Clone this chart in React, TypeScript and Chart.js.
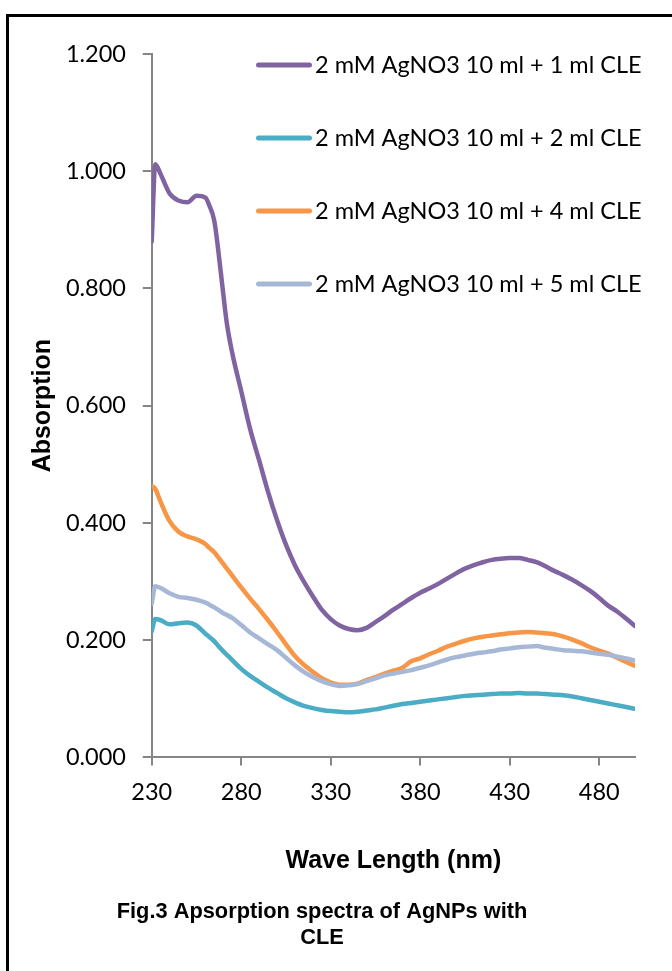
import React, { useEffect, useRef } from "react";
import { Chart, registerables } from "chart.js";

Chart.register(...registerables);

// ---------- data ----------
const wavelengths = [
  230, 232, 235, 240, 245, 250, 255, 260, 262, 265, 267, 270, 272, 275, 280,
  285, 290, 295, 300, 305, 310, 315, 320, 325, 330, 335, 340, 345, 350, 355,
  360, 365, 370, 375, 380, 385, 390, 395, 400, 405, 410, 415, 420, 425, 430,
  435, 440, 445, 450, 455, 460, 465, 470, 475, 480, 485, 490, 495, 500,
];

const abs1ml = [
  0.88, 1.012, 0.995, 0.962, 0.95, 0.947, 0.958, 0.955, 0.943, 0.915, 0.87,
  0.79, 0.74, 0.69, 0.625, 0.56, 0.507, 0.453, 0.405, 0.363, 0.328, 0.3, 0.275,
  0.252, 0.236, 0.225, 0.219, 0.217, 0.221, 0.231, 0.241, 0.252, 0.262, 0.272,
  0.281, 0.288, 0.296, 0.305, 0.314, 0.322, 0.328, 0.333, 0.337, 0.339, 0.34,
  0.34, 0.337, 0.333, 0.326, 0.318, 0.311, 0.303, 0.294, 0.284, 0.272, 0.259,
  0.249, 0.237, 0.224,
];

const abs2ml = [
  0.215, 0.236, 0.234, 0.227, 0.229, 0.23, 0.225, 0.211, 0.206, 0.198, 0.191,
  0.181, 0.175, 0.166, 0.151, 0.139, 0.129, 0.119, 0.11, 0.101, 0.094, 0.088,
  0.084, 0.081, 0.079, 0.078, 0.077, 0.078, 0.08, 0.082, 0.085, 0.088, 0.091,
  0.093, 0.095, 0.097, 0.099, 0.101, 0.103, 0.105, 0.106, 0.107, 0.108, 0.109,
  0.109, 0.11, 0.109, 0.109, 0.108, 0.107, 0.106, 0.104, 0.101, 0.098, 0.095,
  0.092, 0.089, 0.086, 0.083,
];

const abs4ml = [
  0.463, 0.458, 0.436, 0.403, 0.385, 0.377, 0.372, 0.364, 0.358, 0.35, 0.342,
  0.33, 0.322, 0.31, 0.29, 0.271, 0.253, 0.234, 0.214, 0.193, 0.173, 0.158,
  0.146, 0.135, 0.128, 0.124, 0.124, 0.126, 0.132, 0.137, 0.143, 0.148, 0.153,
  0.164, 0.169, 0.176, 0.182, 0.189, 0.194, 0.199, 0.203, 0.206, 0.208, 0.21,
  0.212, 0.213, 0.214, 0.213, 0.212, 0.21, 0.206, 0.201, 0.195, 0.188, 0.182,
  0.177, 0.17, 0.163, 0.156,
];

const abs5ml = [
  0.262, 0.292, 0.289, 0.28, 0.274, 0.272, 0.269, 0.264, 0.261, 0.256, 0.252,
  0.246, 0.243, 0.238, 0.226, 0.213, 0.203, 0.193, 0.183, 0.17, 0.157, 0.146,
  0.137, 0.13, 0.125, 0.122, 0.123, 0.125, 0.13, 0.135, 0.14, 0.143, 0.146,
  0.149, 0.153, 0.157, 0.162, 0.167, 0.171, 0.174, 0.177, 0.179, 0.181, 0.184,
  0.186, 0.188, 0.189, 0.19, 0.187, 0.185, 0.183, 0.182, 0.181, 0.179, 0.177,
  0.175, 0.172, 0.169, 0.165,
];

const seriesLabels = [
  "2 mM AgNO3 10 ml + 1 ml CLE",
  "2 mM AgNO3 10 ml + 2 ml CLE",
  "2 mM AgNO3 10 ml + 4 ml CLE",
  "2 mM AgNO3 10 ml + 5 ml CLE",
];
const seriesValues = [abs1ml, abs2ml, abs4ml, abs5ml];
const seriesColors = ["#8064A2", "#4BACC6", "#F79646", "#A6B8D6"];

const xTickValues = [230, 280, 330, 380, 430, 480];
const xMin = 230;
const xMax = 500;
const yMin = 0;
const yMax = 1.2;
const yStep = 0.2;

const yAxisTitle = "Absorption";
const xAxisTitle = "Wave Length (nm)";
const captionLines = ["Fig.3 Apsorption spectra of AgNPs with", "CLE"];

// ---------- style / layout ----------
const AXIS_GREY = "#868686";
const TICK_FONT = { family: "Lato", size: 23.5 };
const BOLD_FAMILY = "'Liberation Sans Narrow', 'Arial Narrow', 'Liberation Sans', Arial, sans-serif";
const LEGEND_X = 256;
const LEGEND_TOP = 65;
const LEGEND_GAP = 73;
const LEGEND_LINE = 56;

const insideLegend = {
  id: "insideLegend",
  afterDatasetsDraw(chart: any) {
    const ctx = chart.ctx;
    ctx.save();
    chart.data.datasets.forEach((ds: any, i: number) => {
      const y = LEGEND_TOP + i * LEGEND_GAP;
      ctx.strokeStyle = ds.borderColor;
      ctx.lineWidth = 5;
      ctx.lineCap = "round";
      ctx.beginPath();
      ctx.moveTo(LEGEND_X + 2.5, y);
      ctx.lineTo(LEGEND_X + LEGEND_LINE - 2.5, y);
      ctx.stroke();
      ctx.fillStyle = "#000";
      ctx.font = `${TICK_FONT.size}px ${TICK_FONT.family}`;
      ctx.textBaseline = "middle";
      ctx.textAlign = "left";
      ctx.fillText(ds.label, LEGEND_X + LEGEND_LINE + 3, y);
    });
    ctx.restore();
  },
};

export default function App() {
  const ref = useRef<HTMLCanvasElement>(null);

  useEffect(() => {
    if (!ref.current) return;
    const datasets = seriesValues.map((vals, i) => ({
      label: seriesLabels[i],
      data: wavelengths.map((w, j) => ({ x: w, y: vals[j] })),
      borderColor: seriesColors[i],
      backgroundColor: seriesColors[i],
      borderWidth: 4.5,
      pointRadius: 0,
      fill: false,
      cubicInterpolationMode: "monotone" as const,
      borderCapStyle: "round" as const,
      borderJoinStyle: "round" as const,
      order: seriesValues.length - i,
    }));

    const chart = new Chart(ref.current, {
      type: "line",
      data: { datasets },
      plugins: [insideLegend],
      options: {
        responsive: false,
        animation: false,
        devicePixelRatio: 1,
        layout: { padding: { left: 9, right: 37, top: 54, bottom: 20 } },
        plugins: {
          legend: { display: false },
          tooltip: { enabled: false },
          title: {
            display: true,
            position: "bottom",
            text: captionLines,
            color: "#000",
            font: {
              family: BOLD_FAMILY,
              weight: "bold",
              size: 21.8,
              lineHeight: 1.19,
            },
            padding: { top: 21.2, bottom: 0 },
          },
        },
        scales: {
          x: {
            type: "linear",
            min: xMin,
            max: xMax,
            afterBuildTicks: (s: any) => {
              s.ticks = xTickValues.map((v) => ({ value: v }));
            },
            afterFit: (s: any) => {
              s.height = 120.5;
            },
            border: { display: true, color: AXIS_GREY, width: 2 },
            grid: {
              drawOnChartArea: false,
              drawTicks: true,
              tickLength: 8,
              color: AXIS_GREY,
              lineWidth: 2,
            },
            ticks: {
              color: "#000",
              font: TICK_FONT,
              padding: 13,
              maxRotation: 0,
              autoSkip: false,
              callback: (v: any) => String(v),
            },
            title: {
              display: true,
              text: xAxisTitle,
              color: "#000",
              font: {
                family: BOLD_FAMILY,
                weight: "bold",
                size: 25,
                lineHeight: 1.2,
              },
              padding: { top: 0, bottom: 1.5 },
            },
          },
          y: {
            min: yMin,
            max: yMax,
            afterFit: (s: any) => {
              s.width = 142.7;
            },
            border: { display: true, color: AXIS_GREY, width: 2 },
            grid: {
              drawOnChartArea: false,
              drawTicks: true,
              tickLength: 9,
              color: AXIS_GREY,
              lineWidth: 2,
            },
            ticks: {
              stepSize: yStep,
              color: "#000",
              font: TICK_FONT,
              padding: 16.7,
              callback: (v: any) => Number(v).toFixed(3),
            },
            title: {
              display: true,
              text: yAxisTitle,
              color: "#000",
              font: {
                family: "'Liberation Sans', Arial, sans-serif",
                weight: "bold",
                size: 25,
                lineHeight: 1.2,
              },
              padding: { top: 19, bottom: 0 },
            },
          },
        },
      },
    });
    return () => chart.destroy();
  }, []);

  return (
    <div
      style={{
        position: "absolute",
        left: 0,
        top: 0,
        width: 672,
        height: 971,
        background: "#fff",
        overflow: "hidden",
      }}
    >
      <canvas
        ref={ref}
        width={672}
        height={971}
        style={{ position: "absolute", left: 0, top: 0, width: 672, height: 971 }}
      />
      <div
        style={{
          position: "absolute",
          left: 6,
          top: 14,
          width: 720,
          height: 1000,
          borderLeft: "3px solid #000",
          borderTop: "3px solid #000",
          pointerEvents: "none",
        }}
      />
    </div>
  );
}
